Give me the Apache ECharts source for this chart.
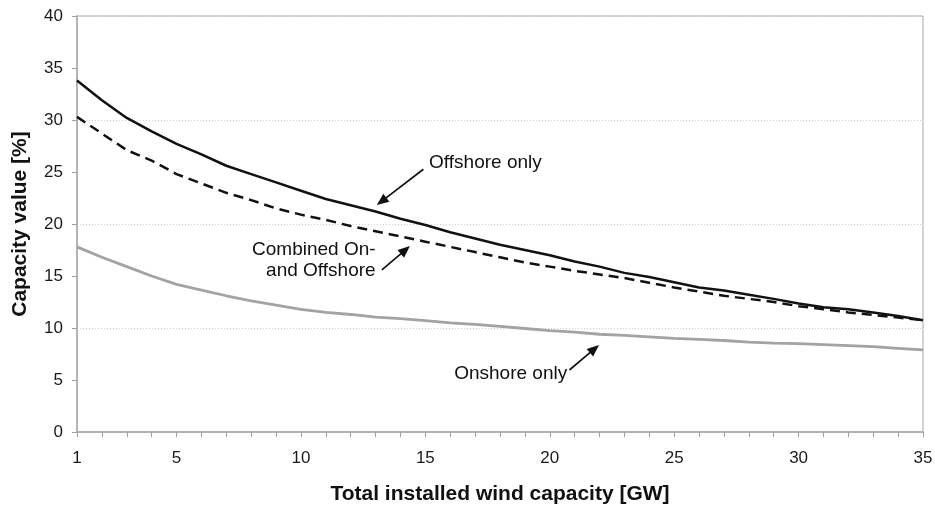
<!DOCTYPE html>
<html>
<head>
<meta charset="utf-8">
<script src="https://cdn.jsdelivr.net/npm/echarts@6/dist/echarts.min.js"></script>
<style>
  html, body { margin: 0; padding: 0; background: #ffffff; }
  #chart { width: 935px; height: 508px; }
</style>
</head>
<body>
<div id="chart"></div>
<script>
// Total installed wind capacity (GW)
const capacityGW = [1, 2, 3, 4, 5, 6, 7, 8, 9, 10, 11, 12, 13, 14, 15, 16, 17, 18,
  19, 20, 21, 22, 23, 24, 25, 26, 27, 28, 29, 30, 31, 32, 33, 34, 35];

// Capacity value (%) for each build-out scenario
const offshoreOnly = [33.8, 31.9, 30.2, 28.9, 27.7, 26.7, 25.6, 24.8, 24.0, 23.2, 22.4, 21.8,
  21.2, 20.5, 19.9, 19.2, 18.6, 18.0, 17.5, 17.0, 16.4, 15.9, 15.3, 14.9, 14.4, 13.9,
  13.6, 13.2, 12.8, 12.35, 12.0, 11.8, 11.5, 11.15, 10.75];
const combinedOnOff = [30.3, 28.7, 27.1, 26.1, 24.8, 23.9, 23.0, 22.3, 21.5, 20.9, 20.4, 19.8,
  19.3, 18.8, 18.3, 17.8, 17.3, 16.8, 16.3, 15.9, 15.5, 15.15, 14.8, 14.35, 13.9, 13.5,
  13.1, 12.8, 12.5, 12.1, 11.8, 11.5, 11.25, 11.0, 10.75];
const onshoreOnly = [17.8, 16.8, 15.9, 15.0, 14.2, 13.65, 13.1, 12.6, 12.2, 11.8, 11.5, 11.3,
  11.05, 10.9, 10.7, 10.5, 10.35, 10.15, 9.95, 9.75, 9.6, 9.4, 9.3, 9.15, 9.0, 8.9,
  8.8, 8.65, 8.55, 8.5, 8.4, 8.3, 8.2, 8.05, 7.9];

// Labelled ticks on the x axis
const xTickLabels = [1, 5, 10, 15, 20, 25, 30, 35];

// Callout texts and the data points their arrows run between (tail -> head)
const calloutOffshore = { lines: ['Offshore only'], at: [15.15, 25.9], align: 'left' };
const calloutCombined = { lines: ['Combined On-', 'and Offshore'], at: [13.0, 16.5], align: 'right' };
const calloutOnshore = { lines: ['Onshore only'], at: [20.7, 5.64], align: 'right' };
const arrowOffshore = [[14.92, 25.26], [13.05, 21.83]];
const arrowCombined = [[13.25, 15.58], [14.38, 17.88]];
const arrowOnshore = [[20.79, 5.96], [21.98, 8.37]];

const FONT = '"Liberation Sans", Arial, Helvetica, sans-serif';

function pairs(xs, ys) { return xs.map((x, i) => [x, ys[i]]); }

const chart = echarts.init(document.getElementById('chart'), null, { renderer: 'canvas' });

const option = {
  backgroundColor: '#ffffff',
  animation: false,
  grid: {
    left: 77, right: 12, top: 16, bottom: 76,
    outerBoundsMode: 'none',
    containLabel: false,
    show: true, borderColor: '#a8a8a8', borderWidth: 1, backgroundColor: 'transparent'
  },
  xAxis: {
    type: 'value',
    min: 1, max: 35, interval: 1,
    name: 'Total installed wind capacity [GW]',
    nameLocation: 'middle',
    nameGap: 52,
    nameTextStyle: { fontFamily: FONT, fontSize: 21, fontWeight: 'bold', color: '#111' },
    axisLine: { show: true, lineStyle: { color: '#b4b4b4', width: 2 } },
    axisTick: { show: true, length: 5, lineStyle: { color: '#a0a0a0', width: 1 } },
    axisLabel: {
      fontFamily: FONT, fontSize: 17, color: '#1a1a1a', margin: 18,
      formatter: v => (xTickLabels.includes(v) ? String(v) : '')
    },
    splitLine: { show: false }
  },
  yAxis: [
    {
      type: 'value',
      min: 0, max: 40, interval: 5,
      name: 'Capacity value [%]',
      nameLocation: 'middle',
      nameGap: 46,
      nameTextStyle: { fontFamily: FONT, fontSize: 21, fontWeight: 'bold', color: '#111' },
      axisLine: { show: true, lineStyle: { color: '#b4b4b4', width: 2 } },
      axisTick: { show: true, length: 5, lineStyle: { color: '#a0a0a0', width: 1 } },
      axisLabel: { fontFamily: FONT, fontSize: 17, color: '#1a1a1a', margin: 14 },
      splitLine: { show: false }
    },
    {
      // carries only the dotted reference lines every 10 %
      type: 'value',
      min: 0, max: 40, interval: 10,
      position: 'left',
      axisLine: { show: false },
      axisTick: { show: false },
      axisLabel: { show: false },
      splitLine: { show: true, lineStyle: { color: '#cfcfcf', width: 1, type: [1, 2] } }
    }
  ],
  series: [
    {
      name: 'Onshore only',
      type: 'line',
      data: pairs(capacityGW, onshoreOnly),
      showSymbol: false,
      lineStyle: { color: '#a3a3a3', width: 2.8 },
      z: 3
    },
    {
      name: 'Combined On- and Offshore',
      type: 'line',
      data: pairs(capacityGW, combinedOnOff),
      showSymbol: false,
      lineStyle: { color: '#111111', width: 2.5, type: [10, 6] },
      z: 4
    },
    {
      name: 'Offshore only',
      type: 'line',
      data: pairs(capacityGW, offshoreOnly),
      showSymbol: false,
      lineStyle: { color: '#111111', width: 2.5 },
      z: 5
    }
  ]
};

chart.setOption(option);

const toPx = v => chart.convertToPixel({ xAxisIndex: 0, yAxisIndex: 0 }, v);

// Callout texts, placed in data coordinates
function calloutGraphic(c) {
  const p = toPx(c.at);
  const lineH = 21.5;
  const n = c.lines.length;
  return c.lines.map((t, i) => ({
    type: 'text',
    silent: true,
    z: 20,
    x: p[0],
    y: p[1] + (i - (n - 1) / 2) * lineH,
    style: {
      text: t,
      fontFamily: FONT,
      fontSize: 19,
      fill: '#111',
      align: c.align,
      verticalAlign: 'middle'
    }
  }));
}

// Arrow: shaft plus a filled head at the second point
function arrowGraphic(seg) {
  const a = toPx(seg[0]);
  const b = toPx(seg[1]);
  const dx = b[0] - a[0], dy = b[1] - a[1];
  const len = Math.hypot(dx, dy);
  const ux = dx / len, uy = dy / len;
  const headL = 12, headW = 5;
  const base = [b[0] - ux * headL, b[1] - uy * headL];
  const nx = -uy, ny = ux;
  return [
    {
      type: 'line', silent: true, z: 20,
      shape: { x1: a[0], y1: a[1], x2: base[0] + ux * 2, y2: base[1] + uy * 2 },
      style: { stroke: '#111', lineWidth: 1.7 }
    },
    {
      type: 'polygon', silent: true, z: 20,
      shape: {
        points: [
          [b[0], b[1]],
          [base[0] + nx * headW, base[1] + ny * headW],
          [base[0] - nx * headW, base[1] - ny * headW]
        ]
      },
      style: { fill: '#111' }
    }
  ];
}

chart.setOption({
  graphic: [].concat(
    calloutGraphic(calloutOffshore),
    calloutGraphic(calloutCombined),
    calloutGraphic(calloutOnshore),
    arrowGraphic(arrowOffshore),
    arrowGraphic(arrowCombined),
    arrowGraphic(arrowOnshore)
  )
});
</script>
</body>
</html>
